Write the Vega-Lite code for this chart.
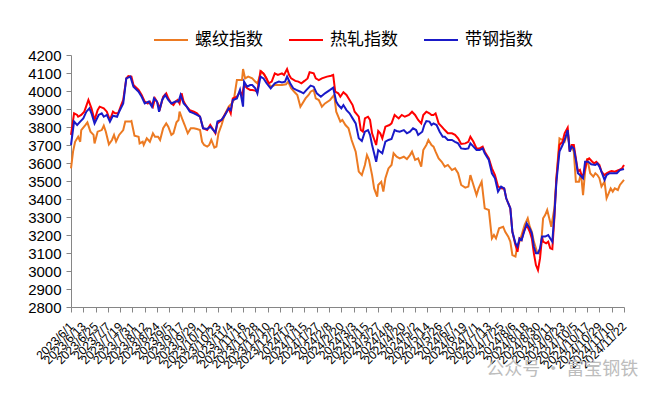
{
  "$schema": "https://vega.github.io/schema/vega-lite/v6.json",
  "width": 553,
  "height": 252,
  "autosize": "none",
  "padding": {"left": 71, "top": 55, "right": 33, "bottom": 90},
  "background": "white",
  "config": {
    "view": {"stroke": null},
    "axis": {"grid": false, "domainColor": "#868686", "tickColor": "#868686", "labelColor": "#000000", "labelFont": "Liberation Sans", "titleFont": "Liberation Sans"},
    "line": {"strokeWidth": 2}
  },
  "title": {"text": "公众号 · 富宝钢铁", "orient": "bottom", "anchor": "end", "color": "#bdbdbd", "fontSize": 18, "font": "Noto Sans CJK SC", "fontWeight": "normal", "offset": -10, "dx": 10},
  "datasets": {
    "rebar": [
      {"d":"2023-06-01","v":3570},{"d":"2023-06-03","v":3663},{"d":"2023-06-05","v":3718},{"d":"2023-06-08","v":3746},{"d":"2023-06-10","v":3718},{"d":"2023-06-11","v":3783},{"d":"2023-06-15","v":3811},{"d":"2023-06-17","v":3826},{"d":"2023-06-20","v":3774},{"d":"2023-06-23","v":3756},{"d":"2023-06-24","v":3709},{"d":"2023-06-27","v":3774},{"d":"2023-07-01","v":3783},{"d":"2023-07-03","v":3807},{"d":"2023-07-05","v":3774},{"d":"2023-07-08","v":3704},{"d":"2023-07-11","v":3728},{"d":"2023-07-13","v":3756},{"d":"2023-07-15","v":3719},{"d":"2023-07-18","v":3756},{"d":"2023-07-22","v":3783},{"d":"2023-07-24","v":3830},{"d":"2023-07-29","v":3830},{"d":"2023-07-30","v":3833},{"d":"2023-08-02","v":3752},{"d":"2023-08-06","v":3746},{"d":"2023-08-07","v":3709},{"d":"2023-08-10","v":3718},{"d":"2023-08-11","v":3700},{"d":"2023-08-14","v":3737},{"d":"2023-08-17","v":3718},{"d":"2023-08-20","v":3765},{"d":"2023-08-22","v":3746},{"d":"2023-08-25","v":3746},{"d":"2023-08-27","v":3728},{"d":"2023-08-30","v":3793},{"d":"2023-09-02","v":3820},{"d":"2023-09-04","v":3802},{"d":"2023-09-07","v":3756},{"d":"2023-09-09","v":3765},{"d":"2023-09-12","v":3826},{"d":"2023-09-14","v":3839},{"d":"2023-09-15","v":3885},{"d":"2023-09-18","v":3839},{"d":"2023-09-20","v":3811},{"d":"2023-09-23","v":3765},{"d":"2023-09-26","v":3793},{"d":"2023-09-29","v":3793},{"d":"2023-10-02","v":3789},{"d":"2023-10-05","v":3783},{"d":"2023-10-07","v":3718},{"d":"2023-10-09","v":3700},{"d":"2023-10-12","v":3691},{"d":"2023-10-14","v":3700},{"d":"2023-10-16","v":3728},{"d":"2023-10-19","v":3685},{"d":"2023-10-21","v":3691},{"d":"2023-10-23","v":3765},{"d":"2023-10-26","v":3811},{"d":"2023-10-29","v":3867},{"d":"2023-11-02","v":3913},{"d":"2023-11-05","v":3931},{"d":"2023-11-07","v":3950},{"d":"2023-11-10","v":4061},{"d":"2023-11-15","v":4061},{"d":"2023-11-16","v":4122},{"d":"2023-11-18","v":4070},{"d":"2023-11-21","v":4080},{"d":"2023-11-25","v":4070},{"d":"2023-11-28","v":4052},{"d":"2023-11-30","v":4043},{"d":"2023-12-04","v":4107},{"d":"2023-12-07","v":4089},{"d":"2023-12-10","v":4052},{"d":"2023-12-13","v":4024},{"d":"2023-12-17","v":4033},{"d":"2023-12-21","v":4033},{"d":"2023-12-24","v":4033},{"d":"2023-12-28","v":4037},{"d":"2023-12-30","v":4052},{"d":"2024-01-02","v":4015},{"d":"2024-01-05","v":3996},{"d":"2024-01-08","v":3978},{"d":"2024-01-11","v":3913},{"d":"2024-01-13","v":3931},{"d":"2024-01-16","v":3959},{"d":"2024-01-19","v":3978},{"d":"2024-01-21","v":3996},{"d":"2024-01-24","v":4006},{"d":"2024-01-26","v":3959},{"d":"2024-01-29","v":3950},{"d":"2024-02-01","v":3913},{"d":"2024-02-04","v":3931},{"d":"2024-02-09","v":3950},{"d":"2024-02-13","v":3978},{"d":"2024-02-15","v":3885},{"d":"2024-02-17","v":3857},{"d":"2024-02-19","v":3830},{"d":"2024-02-21","v":3839},{"d":"2024-02-24","v":3811},{"d":"2024-02-27","v":3793},{"d":"2024-03-01","v":3728},{"d":"2024-03-05","v":3663},{"d":"2024-03-08","v":3552},{"d":"2024-03-11","v":3533},{"d":"2024-03-14","v":3589},{"d":"2024-03-16","v":3644},{"d":"2024-03-18","v":3617},{"d":"2024-03-21","v":3533},{"d":"2024-03-23","v":3459},{"d":"2024-03-26","v":3413},{"d":"2024-03-27","v":3478},{"d":"2024-03-30","v":3496},{"d":"2024-04-01","v":3441},{"d":"2024-04-03","v":3515},{"d":"2024-04-06","v":3570},{"d":"2024-04-09","v":3589},{"d":"2024-04-11","v":3654},{"d":"2024-04-14","v":3635},{"d":"2024-04-17","v":3626},{"d":"2024-04-21","v":3635},{"d":"2024-04-24","v":3622},{"d":"2024-04-27","v":3644},{"d":"2024-04-29","v":3663},{"d":"2024-05-02","v":3617},{"d":"2024-05-05","v":3626},{"d":"2024-05-08","v":3580},{"d":"2024-05-10","v":3672},{"d":"2024-05-13","v":3700},{"d":"2024-05-15","v":3728},{"d":"2024-05-18","v":3700},{"d":"2024-05-20","v":3691},{"d":"2024-05-22","v":3663},{"d":"2024-05-25","v":3626},{"d":"2024-05-28","v":3607},{"d":"2024-05-31","v":3580},{"d":"2024-06-03","v":3589},{"d":"2024-06-07","v":3561},{"d":"2024-06-10","v":3570},{"d":"2024-06-13","v":3543},{"d":"2024-06-16","v":3478},{"d":"2024-06-20","v":3463},{"d":"2024-06-23","v":3469},{"d":"2024-06-25","v":3533},{"d":"2024-06-27","v":3496},{"d":"2024-07-01","v":3422},{"d":"2024-07-03","v":3459},{"d":"2024-07-06","v":3496},{"d":"2024-07-09","v":3348},{"d":"2024-07-13","v":3339},{"d":"2024-07-16","v":3181},{"d":"2024-07-18","v":3200},{"d":"2024-07-20","v":3181},{"d":"2024-07-23","v":3237},{"d":"2024-07-27","v":3246},{"d":"2024-07-29","v":3218},{"d":"2024-08-01","v":3191},{"d":"2024-08-03","v":3163},{"d":"2024-08-05","v":3089},{"d":"2024-08-08","v":3080},{"d":"2024-08-10","v":3144},{"d":"2024-08-12","v":3163},{"d":"2024-08-14","v":3200},{"d":"2024-08-17","v":3256},{"d":"2024-08-20","v":3293},{"d":"2024-08-22","v":3246},{"d":"2024-08-24","v":3218},{"d":"2024-08-26","v":3163},{"d":"2024-08-29","v":3107},{"d":"2024-08-31","v":3098},{"d":"2024-09-02","v":3144},{"d":"2024-09-04","v":3293},{"d":"2024-09-06","v":3311},{"d":"2024-09-08","v":3339},{"d":"2024-09-10","v":3293},{"d":"2024-09-12","v":3246},{"d":"2024-09-15","v":3348},{"d":"2024-09-17","v":3515},{"d":"2024-09-20","v":3737},{"d":"2024-09-23","v":3728},{"d":"2024-09-25","v":3718},{"d":"2024-09-28","v":3774},{"d":"2024-09-30","v":3681},{"d":"2024-10-02","v":3691},{"d":"2024-10-04","v":3663},{"d":"2024-10-06","v":3496},{"d":"2024-10-09","v":3496},{"d":"2024-10-11","v":3543},{"d":"2024-10-13","v":3422},{"d":"2024-10-15","v":3552},{"d":"2024-10-17","v":3626},{"d":"2024-10-20","v":3543},{"d":"2024-10-23","v":3524},{"d":"2024-10-25","v":3543},{"d":"2024-10-27","v":3533},{"d":"2024-10-29","v":3515},{"d":"2024-10-31","v":3469},{"d":"2024-11-03","v":3496},{"d":"2024-11-05","v":3404},{"d":"2024-11-07","v":3431},{"d":"2024-11-09","v":3459},{"d":"2024-11-11","v":3441},{"d":"2024-11-13","v":3459},{"d":"2024-11-16","v":3450},{"d":"2024-11-18","v":3478},{"d":"2024-11-22","v":3506}
    ],
    "hotrolled": [
      {"d":"2023-06-01","v":3756},{"d":"2023-06-04","v":3876},{"d":"2023-06-07","v":3867},{"d":"2023-06-08","v":3857},{"d":"2023-06-11","v":3867},{"d":"2023-06-14","v":3885},{"d":"2023-06-18","v":3950},{"d":"2023-06-21","v":3904},{"d":"2023-06-24","v":3839},{"d":"2023-06-27","v":3894},{"d":"2023-06-29","v":3913},{"d":"2023-07-03","v":3904},{"d":"2023-07-06","v":3885},{"d":"2023-07-09","v":3839},{"d":"2023-07-12","v":3885},{"d":"2023-07-14","v":3876},{"d":"2023-07-17","v":3876},{"d":"2023-07-20","v":3922},{"d":"2023-07-22","v":3950},{"d":"2023-07-25","v":4070},{"d":"2023-07-27","v":4083},{"d":"2023-07-30","v":4080},{"d":"2023-08-01","v":4033},{"d":"2023-08-06","v":4006},{"d":"2023-08-09","v":3978},{"d":"2023-08-12","v":3941},{"d":"2023-08-15","v":3931},{"d":"2023-08-17","v":3941},{"d":"2023-08-20","v":3913},{"d":"2023-08-22","v":3959},{"d":"2023-08-24","v":3941},{"d":"2023-08-27","v":3904},{"d":"2023-08-30","v":3968},{"d":"2023-09-02","v":3987},{"d":"2023-09-04","v":3959},{"d":"2023-09-07","v":3931},{"d":"2023-09-09","v":3922},{"d":"2023-09-11","v":3941},{"d":"2023-09-13","v":3950},{"d":"2023-09-15","v":3931},{"d":"2023-09-17","v":3987},{"d":"2023-09-19","v":3941},{"d":"2023-09-22","v":3913},{"d":"2023-09-25","v":3894},{"d":"2023-09-29","v":3885},{"d":"2023-10-02","v":3876},{"d":"2023-10-05","v":3857},{"d":"2023-10-08","v":3793},{"d":"2023-10-12","v":3783},{"d":"2023-10-15","v":3811},{"d":"2023-10-17","v":3793},{"d":"2023-10-20","v":3765},{"d":"2023-10-22","v":3820},{"d":"2023-10-26","v":3839},{"d":"2023-10-29","v":3867},{"d":"2023-11-02","v":3904},{"d":"2023-11-04","v":3876},{"d":"2023-11-06","v":3959},{"d":"2023-11-10","v":3968},{"d":"2023-11-13","v":3996},{"d":"2023-11-15","v":3978},{"d":"2023-11-17","v":4033},{"d":"2023-11-20","v":4015},{"d":"2023-11-23","v":4006},{"d":"2023-11-25","v":4006},{"d":"2023-11-28","v":4002},{"d":"2023-11-30","v":3996},{"d":"2023-12-03","v":4111},{"d":"2023-12-06","v":4098},{"d":"2023-12-09","v":4070},{"d":"2023-12-11","v":4043},{"d":"2023-12-14","v":4052},{"d":"2023-12-17","v":4098},{"d":"2023-12-20","v":4089},{"d":"2023-12-24","v":4098},{"d":"2023-12-26","v":4089},{"d":"2023-12-29","v":4122},{"d":"2023-12-31","v":4089},{"d":"2024-01-02","v":4070},{"d":"2024-01-06","v":4056},{"d":"2024-01-09","v":4052},{"d":"2024-01-12","v":4043},{"d":"2024-01-15","v":4056},{"d":"2024-01-18","v":4070},{"d":"2024-01-20","v":4104},{"d":"2024-01-24","v":4098},{"d":"2024-01-26","v":4070},{"d":"2024-01-29","v":4061},{"d":"2024-02-01","v":4070},{"d":"2024-02-06","v":4080},{"d":"2024-02-10","v":4085},{"d":"2024-02-12","v":4089},{"d":"2024-02-14","v":3996},{"d":"2024-02-17","v":3987},{"d":"2024-02-19","v":3968},{"d":"2024-02-22","v":3993},{"d":"2024-02-25","v":3978},{"d":"2024-02-28","v":3950},{"d":"2024-03-02","v":3922},{"d":"2024-03-04","v":3885},{"d":"2024-03-08","v":3857},{"d":"2024-03-10","v":3783},{"d":"2024-03-12","v":3774},{"d":"2024-03-14","v":3848},{"d":"2024-03-17","v":3857},{"d":"2024-03-19","v":3839},{"d":"2024-03-21","v":3765},{"d":"2024-03-25","v":3700},{"d":"2024-03-27","v":3778},{"d":"2024-03-29","v":3765},{"d":"2024-03-31","v":3737},{"d":"2024-04-03","v":3802},{"d":"2024-04-07","v":3811},{"d":"2024-04-09","v":3820},{"d":"2024-04-12","v":3867},{"d":"2024-04-14","v":3857},{"d":"2024-04-16","v":3848},{"d":"2024-04-19","v":3867},{"d":"2024-04-22","v":3857},{"d":"2024-04-26","v":3867},{"d":"2024-04-29","v":3885},{"d":"2024-05-02","v":3867},{"d":"2024-05-05","v":3839},{"d":"2024-05-08","v":3820},{"d":"2024-05-10","v":3867},{"d":"2024-05-13","v":3885},{"d":"2024-05-16","v":3876},{"d":"2024-05-18","v":3867},{"d":"2024-05-20","v":3867},{"d":"2024-05-22","v":3876},{"d":"2024-05-25","v":3820},{"d":"2024-05-28","v":3802},{"d":"2024-05-31","v":3783},{"d":"2024-06-03","v":3765},{"d":"2024-06-07","v":3765},{"d":"2024-06-10","v":3756},{"d":"2024-06-13","v":3737},{"d":"2024-06-16","v":3706},{"d":"2024-06-20","v":3709},{"d":"2024-06-23","v":3718},{"d":"2024-06-25","v":3746},{"d":"2024-06-28","v":3718},{"d":"2024-07-01","v":3681},{"d":"2024-07-04","v":3681},{"d":"2024-07-07","v":3691},{"d":"2024-07-09","v":3663},{"d":"2024-07-13","v":3626},{"d":"2024-07-16","v":3570},{"d":"2024-07-19","v":3533},{"d":"2024-07-22","v":3469},{"d":"2024-07-26","v":3459},{"d":"2024-07-28","v":3459},{"d":"2024-07-30","v":3404},{"d":"2024-08-03","v":3348},{"d":"2024-08-05","v":3218},{"d":"2024-08-08","v":3144},{"d":"2024-08-10","v":3107},{"d":"2024-08-12","v":3181},{"d":"2024-08-14","v":3172},{"d":"2024-08-16","v":3218},{"d":"2024-08-19","v":3256},{"d":"2024-08-22","v":3218},{"d":"2024-08-24","v":3181},{"d":"2024-08-26","v":3098},{"d":"2024-08-28","v":3033},{"d":"2024-08-30","v":3005},{"d":"2024-09-01","v":3070},{"d":"2024-09-03","v":3191},{"d":"2024-09-04","v":3163},{"d":"2024-09-07","v":3154},{"d":"2024-09-09","v":3163},{"d":"2024-09-11","v":3126},{"d":"2024-09-13","v":3122},{"d":"2024-09-15","v":3293},{"d":"2024-09-17","v":3515},{"d":"2024-09-20","v":3700},{"d":"2024-09-23","v":3718},{"d":"2024-09-25","v":3765},{"d":"2024-09-28","v":3796},{"d":"2024-09-30","v":3663},{"d":"2024-10-02","v":3700},{"d":"2024-10-04","v":3700},{"d":"2024-10-06","v":3626},{"d":"2024-10-08","v":3552},{"d":"2024-10-10","v":3561},{"d":"2024-10-12","v":3524},{"d":"2024-10-14","v":3543},{"d":"2024-10-17","v":3617},{"d":"2024-10-19","v":3626},{"d":"2024-10-22","v":3607},{"d":"2024-10-24","v":3598},{"d":"2024-10-26","v":3607},{"d":"2024-10-29","v":3589},{"d":"2024-10-31","v":3552},{"d":"2024-11-03","v":3533},{"d":"2024-11-05","v":3543},{"d":"2024-11-08","v":3552},{"d":"2024-11-10","v":3555},{"d":"2024-11-13","v":3552},{"d":"2024-11-17","v":3561},{"d":"2024-11-20","v":3570},{"d":"2024-11-22","v":3589}
    ],
    "strip": [
      {"d":"2023-06-01","v":3700},{"d":"2023-06-04","v":3830},{"d":"2023-06-07","v":3811},{"d":"2023-06-10","v":3830},{"d":"2023-06-13","v":3848},{"d":"2023-06-16","v":3885},{"d":"2023-06-19","v":3904},{"d":"2023-06-21","v":3876},{"d":"2023-06-24","v":3820},{"d":"2023-06-28","v":3867},{"d":"2023-07-01","v":3876},{"d":"2023-07-03","v":3857},{"d":"2023-07-06","v":3867},{"d":"2023-07-09","v":3830},{"d":"2023-07-12","v":3863},{"d":"2023-07-16","v":3857},{"d":"2023-07-18","v":3885},{"d":"2023-07-22","v":3931},{"d":"2023-07-25","v":4070},{"d":"2023-07-29","v":4080},{"d":"2023-08-01","v":4024},{"d":"2023-08-06","v":3996},{"d":"2023-08-09","v":3968},{"d":"2023-08-12","v":3931},{"d":"2023-08-16","v":3941},{"d":"2023-08-19","v":3913},{"d":"2023-08-21","v":3959},{"d":"2023-08-24","v":3941},{"d":"2023-08-26","v":3885},{"d":"2023-08-29","v":3950},{"d":"2023-09-01","v":3978},{"d":"2023-09-04","v":3950},{"d":"2023-09-07","v":3931},{"d":"2023-09-11","v":3941},{"d":"2023-09-14","v":3941},{"d":"2023-09-16","v":3978},{"d":"2023-09-19","v":3931},{"d":"2023-09-22","v":3913},{"d":"2023-09-25","v":3885},{"d":"2023-09-29","v":3876},{"d":"2023-10-02","v":3867},{"d":"2023-10-05","v":3857},{"d":"2023-10-08","v":3793},{"d":"2023-10-12","v":3789},{"d":"2023-10-15","v":3802},{"d":"2023-10-18","v":3783},{"d":"2023-10-20","v":3770},{"d":"2023-10-22","v":3830},{"d":"2023-10-26","v":3839},{"d":"2023-10-29","v":3863},{"d":"2023-11-02","v":3904},{"d":"2023-11-04","v":3894},{"d":"2023-11-06","v":3950},{"d":"2023-11-10","v":3959},{"d":"2023-11-13","v":4006},{"d":"2023-11-16","v":3913},{"d":"2023-11-17","v":4052},{"d":"2023-11-20","v":4024},{"d":"2023-11-23","v":4033},{"d":"2023-11-25","v":4033},{"d":"2023-11-28","v":4015},{"d":"2023-11-30","v":3987},{"d":"2023-12-03","v":4080},{"d":"2023-12-06","v":4070},{"d":"2023-12-09","v":4043},{"d":"2023-12-13","v":4015},{"d":"2023-12-17","v":4043},{"d":"2023-12-21","v":4052},{"d":"2023-12-24","v":4048},{"d":"2023-12-27","v":4052},{"d":"2023-12-29","v":4080},{"d":"2024-01-01","v":4043},{"d":"2024-01-04","v":4015},{"d":"2024-01-07","v":4006},{"d":"2024-01-11","v":3996},{"d":"2024-01-14","v":3987},{"d":"2024-01-17","v":4006},{"d":"2024-01-21","v":4030},{"d":"2024-01-24","v":4024},{"d":"2024-01-27","v":3987},{"d":"2024-01-31","v":3968},{"d":"2024-02-04","v":3987},{"d":"2024-02-09","v":4006},{"d":"2024-02-12","v":4018},{"d":"2024-02-15","v":3941},{"d":"2024-02-17","v":3922},{"d":"2024-02-20","v":3904},{"d":"2024-02-22","v":3922},{"d":"2024-02-25","v":3894},{"d":"2024-02-28","v":3876},{"d":"2024-03-02","v":3848},{"d":"2024-03-05","v":3820},{"d":"2024-03-08","v":3737},{"d":"2024-03-11","v":3722},{"d":"2024-03-14","v":3774},{"d":"2024-03-17","v":3783},{"d":"2024-03-19","v":3756},{"d":"2024-03-21","v":3700},{"d":"2024-03-25","v":3607},{"d":"2024-03-27","v":3672},{"d":"2024-03-29","v":3663},{"d":"2024-03-31","v":3654},{"d":"2024-04-03","v":3718},{"d":"2024-04-06","v":3728},{"d":"2024-04-09","v":3733},{"d":"2024-04-12","v":3783},{"d":"2024-04-14","v":3778},{"d":"2024-04-17","v":3774},{"d":"2024-04-21","v":3783},{"d":"2024-04-24","v":3765},{"d":"2024-04-27","v":3774},{"d":"2024-04-30","v":3793},{"d":"2024-05-03","v":3783},{"d":"2024-05-05","v":3756},{"d":"2024-05-09","v":3774},{"d":"2024-05-11","v":3811},{"d":"2024-05-13","v":3833},{"d":"2024-05-16","v":3830},{"d":"2024-05-18","v":3811},{"d":"2024-05-20","v":3820},{"d":"2024-05-23","v":3811},{"d":"2024-05-26","v":3774},{"d":"2024-05-29","v":3746},{"d":"2024-05-31","v":3746},{"d":"2024-06-03","v":3728},{"d":"2024-06-07","v":3728},{"d":"2024-06-10","v":3718},{"d":"2024-06-13","v":3709},{"d":"2024-06-16","v":3681},{"d":"2024-06-20","v":3678},{"d":"2024-06-23","v":3681},{"d":"2024-06-25","v":3709},{"d":"2024-06-28","v":3691},{"d":"2024-07-01","v":3672},{"d":"2024-07-04","v":3672},{"d":"2024-07-07","v":3681},{"d":"2024-07-09","v":3654},{"d":"2024-07-13","v":3617},{"d":"2024-07-16","v":3543},{"d":"2024-07-19","v":3515},{"d":"2024-07-22","v":3441},{"d":"2024-07-25","v":3469},{"d":"2024-07-28","v":3459},{"d":"2024-07-30","v":3404},{"d":"2024-08-03","v":3348},{"d":"2024-08-05","v":3218},{"d":"2024-08-08","v":3154},{"d":"2024-08-10","v":3135},{"d":"2024-08-12","v":3181},{"d":"2024-08-14","v":3172},{"d":"2024-08-17","v":3228},{"d":"2024-08-19","v":3265},{"d":"2024-08-22","v":3237},{"d":"2024-08-24","v":3209},{"d":"2024-08-26","v":3135},{"d":"2024-08-28","v":3098},{"d":"2024-08-30","v":3098},{"d":"2024-09-01","v":3126},{"d":"2024-09-03","v":3191},{"d":"2024-09-06","v":3191},{"d":"2024-09-09","v":3200},{"d":"2024-09-11","v":3181},{"d":"2024-09-13","v":3163},{"d":"2024-09-15","v":3311},{"d":"2024-09-17","v":3496},{"d":"2024-09-20","v":3663},{"d":"2024-09-23","v":3700},{"d":"2024-09-25","v":3728},{"d":"2024-09-28","v":3783},{"d":"2024-09-30","v":3663},{"d":"2024-10-02","v":3691},{"d":"2024-10-04","v":3681},{"d":"2024-10-06","v":3617},{"d":"2024-10-08","v":3543},{"d":"2024-10-10","v":3533},{"d":"2024-10-13","v":3515},{"d":"2024-10-15","v":3607},{"d":"2024-10-18","v":3607},{"d":"2024-10-21","v":3593},{"d":"2024-10-25","v":3589},{"d":"2024-10-27","v":3598},{"d":"2024-10-29","v":3580},{"d":"2024-10-31","v":3552},{"d":"2024-11-03","v":3506},{"d":"2024-11-05","v":3533},{"d":"2024-11-08","v":3543},{"d":"2024-11-12","v":3543},{"d":"2024-11-15","v":3543},{"d":"2024-11-18","v":3561},{"d":"2024-11-22","v":3567}
    ]
  },
  "encoding": {
    "x": {
      "field": "d", "type": "temporal", "title": null,
      "scale": {"type": "utc", "domain": [{"year": 2023, "month": 6, "date": 1, "utc": true}, {"year": 2024, "month": 11, "date": 22, "utc": true}], "nice": false},
      "axis": {
        "labelExpr": "utcFormat(datum.value, '%Y/%-m/%-d')", "labelAngle": -45, "labelAlign": "right", "labelBaseline": "middle", "labelFontSize": 12, "labelPadding": 12, "tickSize": 5, "labelOverlap": false, "labelFlush": false, "labelBound": false,
        "values": [
          {"year":2023,"month":6,"date":1,"utc":true},{"year":2023,"month":6,"date":13,"utc":true},{"year":2023,"month":6,"date":25,"utc":true},{"year":2023,"month":7,"date":7,"utc":true},{"year":2023,"month":7,"date":19,"utc":true},{"year":2023,"month":7,"date":31,"utc":true},{"year":2023,"month":8,"date":12,"utc":true},{"year":2023,"month":8,"date":24,"utc":true},{"year":2023,"month":9,"date":5,"utc":true},{"year":2023,"month":9,"date":17,"utc":true},{"year":2023,"month":9,"date":29,"utc":true},{"year":2023,"month":10,"date":11,"utc":true},{"year":2023,"month":10,"date":23,"utc":true},{"year":2023,"month":11,"date":4,"utc":true},{"year":2023,"month":11,"date":16,"utc":true},{"year":2023,"month":11,"date":28,"utc":true},{"year":2023,"month":12,"date":10,"utc":true},{"year":2023,"month":12,"date":22,"utc":true},
          {"year":2024,"month":1,"date":3,"utc":true},{"year":2024,"month":1,"date":15,"utc":true},{"year":2024,"month":1,"date":27,"utc":true},{"year":2024,"month":2,"date":8,"utc":true},{"year":2024,"month":2,"date":20,"utc":true},{"year":2024,"month":3,"date":3,"utc":true},{"year":2024,"month":3,"date":15,"utc":true},{"year":2024,"month":3,"date":27,"utc":true},{"year":2024,"month":4,"date":8,"utc":true},{"year":2024,"month":4,"date":20,"utc":true},{"year":2024,"month":5,"date":2,"utc":true},{"year":2024,"month":5,"date":14,"utc":true},{"year":2024,"month":5,"date":26,"utc":true},{"year":2024,"month":6,"date":7,"utc":true},{"year":2024,"month":6,"date":19,"utc":true},{"year":2024,"month":7,"date":1,"utc":true},{"year":2024,"month":7,"date":13,"utc":true},{"year":2024,"month":7,"date":25,"utc":true},{"year":2024,"month":8,"date":6,"utc":true},{"year":2024,"month":8,"date":18,"utc":true},{"year":2024,"month":8,"date":30,"utc":true},{"year":2024,"month":9,"date":11,"utc":true},{"year":2024,"month":9,"date":23,"utc":true},{"year":2024,"month":10,"date":5,"utc":true},{"year":2024,"month":10,"date":17,"utc":true},{"year":2024,"month":10,"date":29,"utc":true},{"year":2024,"month":11,"date":10,"utc":true},{"year":2024,"month":11,"date":22,"utc":true}
        ]
      }
    },
    "y": {
      "field": "v", "type": "quantitative", "title": null,
      "scale": {"domain": [2800, 4200], "nice": false, "zero": false},
      "axis": {"format": "d", "values": [2800, 2900, 3000, 3100, 3200, 3300, 3400, 3500, 3600, 3700, 3800, 3900, 4000, 4100, 4200], "labelFontSize": 15, "tickSize": 5, "labelPadding": 5}
    },
    "color": {
      "type": "nominal",
      "scale": {"domain": ["螺纹指数", "热轧指数", "带钢指数"], "range": ["#EC7A22", "#FF0000", "#1A1AC8"]},
      "legend": {
        "title": null, "orient": "none", "legendX": 82, "legendY": -33, "direction": "horizontal",
        "symbolType": "stroke", "symbolSize": 1156, "symbolStrokeWidth": 2,
        "labelFont": "Noto Sans CJK SC", "labelFontSize": 17, "labelColor": "#000000", "labelOffset": 6, "columnPadding": 22
      }
    }
  },
  "layer": [
    {"data": {"name": "rebar"}, "mark": {"type": "line"}, "encoding": {"color": {"datum": "螺纹指数"}}},
    {"data": {"name": "hotrolled"}, "mark": {"type": "line"}, "encoding": {"color": {"datum": "热轧指数"}}},
    {"data": {"name": "strip"}, "mark": {"type": "line"}, "encoding": {"color": {"datum": "带钢指数"}}}
  ]
}
